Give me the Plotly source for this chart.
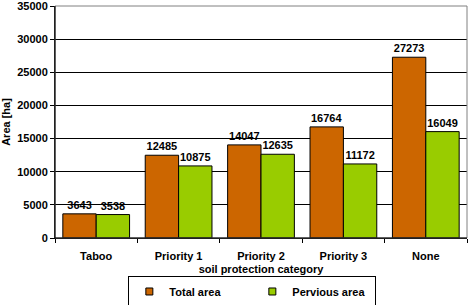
import plotly.graph_objects as go

categories = ["Taboo", "Priority 1", "Priority 2", "Priority 3", "None"]
total_area = [3643, 12485, 14047, 16764, 27273]
pervious_area = [3538, 10875, 12635, 11172, 16049]
y_ticks = [0, 5000, 10000, 15000, 20000, 25000, 30000, 35000]
series_names = ["Total area", "Pervious area"]
series_colors = ["#CC6600", "#99CC00"]

FONT = "Liberation Sans"
fnt = dict(family=FONT, size=11, color="black")

fig = go.Figure()
for name, vals, col in zip(series_names, [total_area, pervious_area], series_colors):
    fig.add_trace(go.Bar(
        x=categories, y=vals, name=name, showlegend=False,
        marker=dict(color=col, line=dict(color="black", width=1)),
        text=[f"<b>{v}</b>" for v in vals], textposition="outside",
        textfont=fnt, cliponaxis=False,
    ))
# legend entries with small square keys
for name, col in zip(series_names, series_colors):
    fig.add_trace(go.Scatter(
        x=[None], y=[None], mode="markers", name=f"<b>{name}</b>",
        marker=dict(symbol="square", size=7, color=col, line=dict(color="black", width=1)),
    ))

fig.update_layout(
    width=470, height=305,
    margin=dict(l=55, r=3, t=6, b=67, autoexpand=False),
    paper_bgcolor="white", plot_bgcolor="white",
    barmode="group", bargap=0.19, bargroupgap=0,
    font=fnt,
    showlegend=True,
    legend=dict(
        orientation="h", x=0.479, xanchor="center", y=-0.2306, yanchor="middle",
        bordercolor="black", borderwidth=1, font=dict(family=FONT, size=11),
        entrywidth=78, itemwidth=30, tracegroupgap=0,
    ),
    uniformtext=dict(minsize=11, mode="show"),
)
fig.update_xaxes(
    showline=True, linecolor="black", linewidth=1,
    ticks="outside", tickson="boundaries", ticklen=4, tickcolor="black",
    ticklabelstandoff=8,
    tickfont=dict(family=FONT, size=11),
    tickvals=categories, ticktext=[f"<b>{c}</b>" for c in categories],
    title=dict(text="<b>soil protection category</b>", font=dict(family=FONT, size=11), standoff=4),
    showgrid=False,
)
fig.update_yaxes(
    range=[0, 35000], tickvals=y_ticks, ticktext=[f"<b>{v}</b>" for v in y_ticks],
    showline=True, linecolor="black", linewidth=1,
    ticks="outside", ticklen=4, tickcolor="black",
    ticklabeloverflow="allow",
    showgrid=True, gridcolor="black", gridwidth=1,
    tickfont=dict(family=FONT, size=11),
    title=dict(text="<b>Area [ha]</b>", font=dict(family=FONT, size=11), standoff=4),
    zeroline=False,
)
fig.add_shape(type="rect", xref="paper", yref="paper", x0=0, y0=0, x1=1, y1=1,
              line=dict(color="#808080", width=1), layer="above")
fig.add_shape(type="line", xref="paper", yref="paper", x0=0, y0=0, x1=0, y1=1,
              line=dict(color="black", width=1), layer="above")
fig.add_shape(type="line", xref="paper", yref="paper", x0=0, y0=0, x1=1, y1=0,
              line=dict(color="black", width=1), layer="above")

fig.write_html("out.html")
